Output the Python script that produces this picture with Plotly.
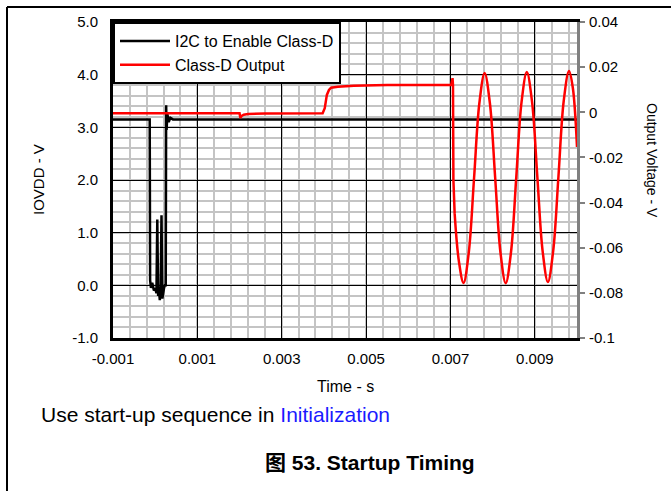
import plotly.graph_objects as go

# --- data
T_I2C = [-0.001, -0.00013, -0.00012, -0.00010, -0.00007, -0.00003, 0.00000, 0.00003,
         0.00005, 0.00007, 0.00009, 0.00011, 0.00013, 0.00015, 0.00017, 0.00019,
         0.00021, 0.00023, 0.00025, 0.00026, 0.00027, 0.00029, 0.00032, 0.00036,
         0.00042, 0.0100]
V_I2C = [3.15, 3.15, 0.10, -0.05, 0.05, -0.10, -0.05, -0.15,
         1.25, -0.20, -0.10, -0.28, 0.00, 1.33, -0.25, -0.10,
         -0.05, 0.00, 0.00, 3.42, 2.95, 3.25, 3.10, 3.18,
         3.15, 3.15]

# Class-D output before the tone starts
T_OUT_STEP = [-0.001, 0.00200, 0.00202, 0.00205, 0.00210, 0.00220, 0.00260, 0.00397,
              0.00402, 0.00407, 0.00412, 0.00417, 0.00433, 0.00471, 0.00550, 0.00650,
              0.00702, 0.00705, 0.00706, 0.00707, 0.00709, 0.00710]
V_OUT_STEP = [-0.0004, -0.0004, -0.0025, -0.0016, -0.0011, -0.0008, -0.0005, -0.0004,
              0.0018, 0.0077, 0.0099, 0.0109, 0.0113, 0.0118, 0.0121, 0.0121,
              0.0122, 0.0151, 0.0120, -0.0300, -0.0440, -0.0450]

# Class-D output, 1 kHz tone
T_OUT_TONE = [0.00710, 0.00720, 0.00731, 0.007435, 0.00756, 0.007685, 0.00781,
              0.007935, 0.00806, 0.008185, 0.00831, 0.008435, 0.00856, 0.008685,
              0.00881, 0.008935, 0.00906, 0.009185, 0.00931, 0.009435, 0.00956,
              0.009685, 0.00981, 0.00990, 0.01000]
V_OUT_TONE = [-0.0450, -0.0660, -0.0756, -0.0620, -0.0290, 0.0040, 0.0174,
              0.0040, -0.0290, -0.0620, -0.0757, -0.0620, -0.0288, 0.0045,
              0.0178, 0.0045, -0.0287, -0.0615, -0.0752, -0.0615, -0.0285,
              0.0050, 0.0183, 0.0110, -0.0154]

X_TICKS = [-0.001, 0.001, 0.003, 0.005, 0.007, 0.009]
X_LABELS = ["-0.001", "0.001", "0.003", "0.005", "0.007", "0.009"]
Y_TICKS = [-1, 0, 1, 2, 3, 4, 5]
Y_LABELS = ["-1.0", "0.0", "1.0", "2.0", "3.0", "4.0", "5.0"]
Y2_TICKS = [-0.1, -0.08, -0.06, -0.04, -0.02, 0, 0.02, 0.04]
Y2_LABELS = ["-0.1", "-0.08", "-0.06", "-0.04", "-0.02", "0", "0.02", "0.04"]

# --- geometry (pixels of the 671x491 page)
W, H = 671, 491
L, R, TOP, BOT = 113, 577, 22, 338
FONT = "Arial, Liberation Sans, Noto Sans CJK SC, sans-serif"


def px(x):
    return (x - L) / (R - L)


def py(y):
    return (BOT - y) / (BOT - TOP)


fig = go.Figure()
fig.add_trace(go.Scatter(
    x=T_I2C, y=V_I2C, mode="lines", name="I2C to Enable Class-D",
    line=dict(color="black", width=2.5)
))
fig.add_trace(go.Scatter(
    x=T_OUT_STEP, y=V_OUT_STEP, mode="lines", name="Class-D Output", yaxis="y2",
    line=dict(color="#ff0000", width=2.5)
))
fig.add_trace(go.Scatter(
    x=T_OUT_TONE, y=V_OUT_TONE, mode="lines", name="Class-D Output", yaxis="y2",
    showlegend=False,
    line=dict(color="#ff0000", width=2.5, shape="spline", smoothing=1.0)
))

fig.update_layout(
    width=W, height=H,
    margin=dict(l=L, r=W - R, t=TOP, b=H - BOT, autoexpand=False),
    paper_bgcolor="white", plot_bgcolor="white",
    font=dict(family=FONT, size=15, color="black"),
    showlegend=True,
    legend=dict(x=0, y=1, xanchor="left", yanchor="top", bgcolor="white",
                bordercolor="black", borderwidth=2, itemwidth=50,
                font=dict(size=16), tracegroupgap=0),
    xaxis=dict(
        range=[-0.001, 0.010], tickvals=X_TICKS, ticktext=X_LABELS,
        showgrid=True, gridcolor="black", gridwidth=1,
        minor=dict(tick0=-0.001, dtick=0.0004, showgrid=True,
                   gridcolor="#c4c4c4", gridwidth=2),
        showline=True, linecolor="black", linewidth=3, mirror=True,
        zeroline=False, ticks="", ticklabelstandoff=5,
    ),
    yaxis=dict(
        range=[-1, 5], tickvals=Y_TICKS, ticktext=Y_LABELS,
        showgrid=True, gridcolor="black", gridwidth=1,
        minor=dict(tick0=-1, dtick=0.2, showgrid=True,
                   gridcolor="#c4c4c4", gridwidth=2),
        showline=True, linecolor="black", linewidth=3,
        zeroline=False, ticks="", ticklabelstandoff=9,
    ),
    yaxis2=dict(
        range=[-0.1, 0.04], tickvals=Y2_TICKS, ticktext=Y2_LABELS,
        overlaying="y", side="right", showgrid=False, zeroline=False,
        showline=True, linecolor="#808080", linewidth=3,
        ticks="outside", ticklen=5, tickwidth=2, tickcolor="#808080",
        ticklabelstandoff=1,
    ),
)

# page frame lines
fig.add_shape(type="line", xref="paper", yref="paper",
              x0=px(7), x1=px(W), y0=py(7), y1=py(7),
              line=dict(color="black", width=2))
fig.add_shape(type="line", xref="paper", yref="paper",
              x0=px(7), x1=px(7), y0=py(7), y1=py(H),
              line=dict(color="black", width=2))

# axis titles and page text
def note(text, x, y, size, angle=0, xanchor="center"):
    fig.add_annotation(text=text, xref="paper", yref="paper", x=px(x), y=py(y),
                       xanchor=xanchor, yanchor="middle", textangle=angle,
                       showarrow=False, font=dict(size=size))


note("IOVDD - V", 38, 180, 15, angle=-90)
note("Output Voltage - V", 652, 160, 14, angle=90)
note("Time - s", 345, 386, 16)
note("Use start-up sequence in <span style='color:#1a1aff'>Initialization</span>", 39, 414, 21,
     xanchor="left")
note("<b>图 53. Startup Timing</b>", 370, 463, 21)

# drop the page's default body margin so the figure sits at the window origin
fig.write_html("out.html", config={"displayModeBar": False},
               post_script="document.body.style.margin='0px';")
